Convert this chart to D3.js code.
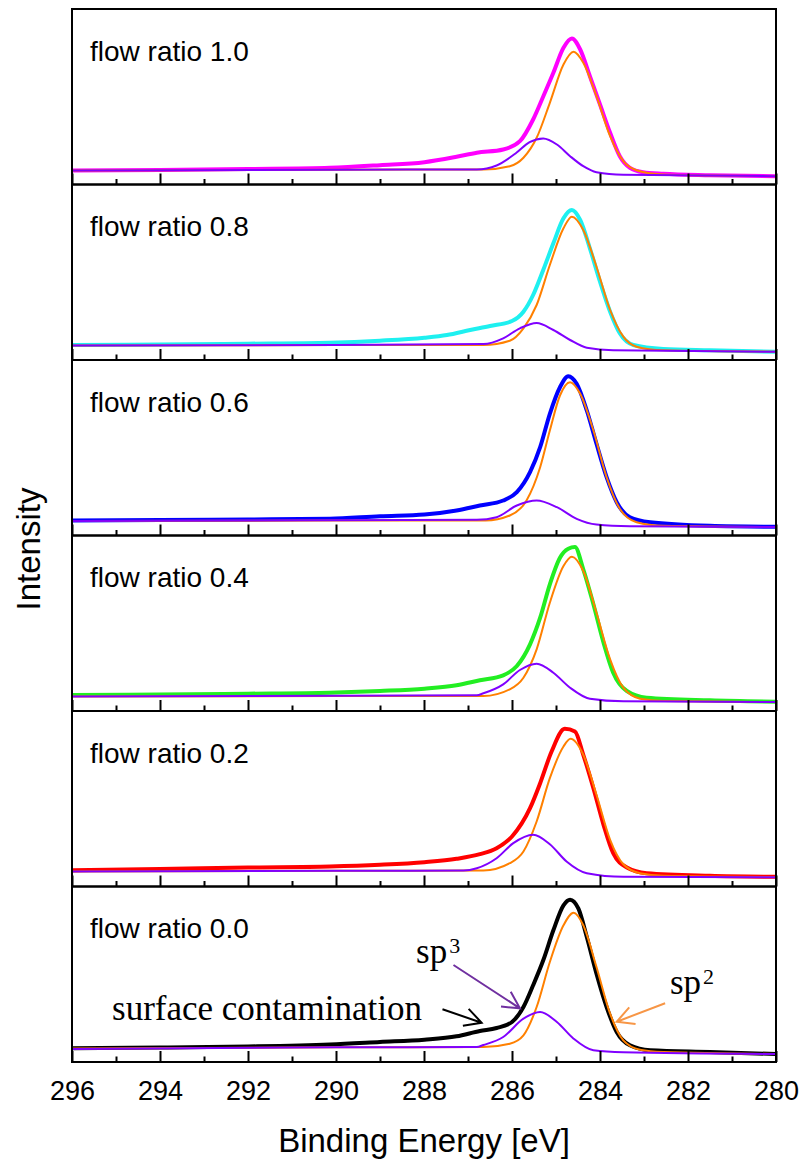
<!DOCTYPE html>
<html>
<head>
<meta charset="utf-8">
<script src="https://cdn.jsdelivr.net/npm/d3@7"></script>
<style>
  html, body { margin: 0; padding: 0; background: #fff; }
  svg { display: block; }
</style>
</head>
<body>
<div id="chart"></div>
<script>
// ---------------- data ----------------
const majorTicks = [296, 294, 292, 290, 288, 286, 284, 282, 280];
const minorTicks = [295, 293, 291, 289, 287, 285, 283, 281];
const panelLabels = ["flow ratio 1.0", "flow ratio 0.8", "flow ratio 0.6", "flow ratio 0.4", "flow ratio 0.2", "flow ratio 0.0"];
const envColors = ["#ff00ff", "#1ef0f0", "#0000ff", "#22ee22", "#ff0000", "#000000"];
const sp2Color = "#ff8000";
const sp3Color = "#8000ff";

// [binding energy (eV), intensity (a.u.)]
const env10 = [[296,14],[294,14.5],[292,15.5],[290.14,16.7],[289.0,19.3],[287.99,22.3],[287.26,27.7],[286.8,31.7],[286.2,35],[285.82,43.3],[285.52,65],[285.29,88],[285.06,111.7],[284.83,136.7],[284.64,146],[284.45,135],[284.23,108.3],[284.0,80],[283.77,51.7],[283.55,28.3],[283.32,16.7],[283.02,12.3],[282.56,10.7],[281.5,9.3],[280,8.3]];
const sp2_10 = [[296,14],[290,14.8],[286.65,15],[286.05,18.3],[285.74,26.7],[285.44,46.7],[285.14,81.7],[284.83,120],[284.6,132.7],[284.38,121.7],[284.08,88.3],[283.77,48.3],[283.47,23.3],[283.17,14.3],[282.56,10],[281,8.8],[280,8.3]];
const sp3_10 = [[296,14],[290,14.8],[286.8,15],[286.35,19],[285.9,31.7],[285.6,42.3],[285.29,46],[284.98,40],[284.68,28.3],[284.38,18.3],[284.08,12.3],[283.47,9.7],[280,8.3]];

const env08 = [[296,15],[294,15.5],[292,16.3],[290.14,17.3],[289.0,19.3],[287.99,22.3],[287.48,25],[286.95,30],[286.5,34],[286.0,39],[285.74,48.3],[285.52,65],[285.29,90],[285.06,116.7],[284.83,141.7],[284.64,150],[284.45,140],[284.23,111.7],[284.0,78.3],[283.77,48.3],[283.55,26.7],[283.24,15],[282.56,11],[281.5,9.7],[280,8.3]];
const sp2_08 = [[296,14.5],[290,15],[286.65,15],[286.05,19.3],[285.74,31.7],[285.44,55],[285.14,95],[284.83,131.7],[284.64,143.3],[284.38,130],[284.08,93.3],[283.77,50],[283.47,23.3],[283.17,13.3],[282.56,9.7],[280,8.3]];
const sp3_08 = [[296,14.5],[290,15],[286.65,16],[286.2,21.7],[285.82,31.7],[285.44,37],[285.06,30],[284.68,20],[284.3,12.3],[283.7,9.7],[280,8.3]];

const env06 = [[296,15],[294,15.5],[292,16],[290.14,16.7],[289.0,19.3],[287.99,21],[287.26,25],[286.73,30],[286.2,35],[285.89,43.3],[285.59,63.3],[285.36,88.3],[285.14,121.7],[284.91,148.3],[284.72,159.3],[284.53,151.7],[284.3,125],[284.08,91.7],[283.85,58.3],[283.62,33.3],[283.32,18.3],[282.86,13.3],[281.5,9.7],[280,8.7]];
const sp2_06 = [[296,14.5],[290,15],[286.6,15],[286.05,20],[285.67,35],[285.36,68.3],[285.14,105],[284.91,140],[284.68,153.3],[284.45,141.7],[284.15,105],[283.85,58.3],[283.55,26.7],[283.17,13.3],[282.56,9.7],[280,8.5]];
const sp3_06 = [[296,14.5],[290,15.3],[286.8,15.7],[286.35,18.3],[285.89,30],[285.44,35],[284.98,28.3],[284.53,16.7],[284.08,11],[283.32,9.3],[280,8.5]];

const env04 = [[296,16],[294,16.5],[292,17.3],[290.14,18.3],[289.0,20],[287.99,22.3],[287.26,25.7],[286.73,30.7],[286.2,35.7],[285.89,45],[285.59,66.7],[285.36,93.3],[285.14,126.7],[284.91,153.3],[284.72,162.3],[284.57,164],[284.38,141.7],[284.15,106.7],[283.92,68.3],[283.7,38.3],[283.39,20],[282.94,13.3],[281.5,10.7],[280,9.3]];
const sp2_04 = [[296,14.5],[290,15],[286.65,15],[286.05,21.7],[285.74,33.3],[285.44,61.7],[285.14,108.3],[284.83,145],[284.64,154.3],[284.38,140],[284.08,98.3],[283.77,51.7],[283.47,23.3],[283.09,12.3],[282.56,10],[280,9]];
const sp3_04 = [[296,14.5],[290,15.3],[286.8,15.7],[286.65,17.7],[286.2,26.7],[285.82,41],[285.44,47.3],[285.06,38.3],[284.68,23.3],[284.23,12.3],[283.47,9.7],[280,9]];

const env02 = [[296,16.3],[294,17.5],[292,19],[290.14,20],[289.0,21.7],[287.99,24.3],[287.26,27.7],[286.73,32.3],[286.35,38.3],[286.0,50],[285.59,78.3],[285.36,103.3],[285.1,135],[284.8,157.7],[284.57,155],[284.38,131.7],[284.15,98.3],[283.92,61.7],[283.7,33.3],[283.39,19],[282.94,13.3],[281.5,10.7],[280,9.7]];
const sp2_02 = [[296,15],[290,15.7],[286.65,16],[286.05,23.3],[285.74,35],[285.44,65],[285.14,108.3],[284.83,140],[284.67,147.7],[284.38,131.7],[284.08,91.7],[283.77,46.7],[283.47,22.3],[283.09,13.3],[282.56,10.7],[280,9.5]];
const sp3_02 = [[296,15],[290,15.7],[287.1,16],[286.8,18.3],[286.35,28.3],[285.97,43.3],[285.52,51.7],[285.14,42.3],[284.76,25],[284.3,13.3],[283.47,9.7],[280,9.3]];

const env00 = [[296,13.7],[294,14.5],[292,15.5],[290.14,17.5],[289.0,20],[287.99,22.3],[287.26,25.7],[286.73,31],[286.35,34],[286.0,40],[285.74,55],[285.52,76.7],[285.29,101.7],[285.06,131.7],[284.83,156.7],[284.68,162.3],[284.49,153.3],[284.3,125],[284.08,88.3],[283.85,55],[283.62,30],[283.32,16.7],[282.86,11.7],[281.5,10],[280,8]];
const sp2_00 = [[296,13.5],[290,14.7],[286.65,15],[286.05,18.3],[285.74,26.7],[285.44,55],[285.14,100],[284.83,136.7],[284.6,149.3],[284.38,136.7],[284.08,95],[283.77,48.3],[283.47,21.7],[283.09,12.3],[282.56,10],[280,8]];
const sp3_00 = [[296,13],[290,14.7],[286.8,15],[286.65,17],[286.2,25],[285.74,43.3],[285.36,50],[284.98,40],[284.6,23.3],[284.15,11.7],[283.47,9.7],[280,8]];

const envSeries = [env10, env08, env06, env04, env02, env00];
const sp2Series = [sp2_10, sp2_08, sp2_06, sp2_04, sp2_02, sp2_00];
const sp3Series = [sp3_10, sp3_08, sp3_06, sp3_04, sp3_02, sp3_00];

// annotations in the bottom panel (energy, intensity)
const noteTexts = ["surface contamination", "sp", "sp"];
const noteSups = ["", "3", "2"];
const notePos = [[295.09, 42], [288.18, 99], [282.41, 68]];
const arrowFrom = [[287.58, 52.7], [287.33, 97], [282.52, 58.7]];
const arrowTo = [[286.69, 39.3], [285.82, 53.7], [283.62, 40.3]];
const arrowColors = ["#000000", "#7030a0", "#f79646"];

// ---------------- layout ----------------
const W = 801, H = 1160;
const mLeft = 72, mRight = 776, mTop = 9, mBottom = 1062;
const nP = 6;
const pH = (mBottom - mTop) / nP;
const yMax = 175.5;

const svg = d3.select("#chart").append("svg").attr("width", W).attr("height", H);
svg.append("rect").attr("width", W).attr("height", H).attr("fill", "#fff");

const x = d3.scaleLinear().domain([296, 280]).range([mLeft, mRight]);

const makeLine = (y) => d3.line().x(d => x(d[0])).y(d => y(d[1])).curve(d3.curveMonotoneX);

const defs = svg.append("defs");

for (let i = 0; i < nP; i++) {
  const pt = mTop + i * pH, pb = pt + pH;
  const y = d3.scaleLinear().domain([0, yMax]).range([pb, pt]);
  const g = svg.append("g");

  defs.append("clipPath").attr("id", "clip" + i)
    .append("rect").attr("x", mLeft).attr("y", pt).attr("width", mRight - mLeft).attr("height", pH);

  const cg = g.append("g").attr("clip-path", `url(#clip${i})`);
  cg.append("path").datum(envSeries[i]).attr("d", makeLine(y))
    .attr("fill", "none").attr("stroke", envColors[i]).attr("stroke-width", 4)
    .attr("stroke-linejoin", "round").attr("stroke-linecap", "round");
  cg.append("path").datum(sp2Series[i]).attr("d", makeLine(y))
    .attr("fill", "none").attr("stroke", sp2Color).attr("stroke-width", 2);
  cg.append("path").datum(sp3Series[i]).attr("d", makeLine(y))
    .attr("fill", "none").attr("stroke", sp3Color).attr("stroke-width", 2);

  // ticks (inward, at the bottom of each panel)
  const axMaj = g.append("g").attr("transform", `translate(0,${pb})`)
    .call(d3.axisBottom(x).tickValues(majorTicks).tickSize(-11).tickFormat(""));
  const axMin = g.append("g").attr("transform", `translate(0,${pb})`)
    .call(d3.axisBottom(x).tickValues(minorTicks).tickSize(-5.5).tickFormat(""));
  [axMaj, axMin].forEach(a => {
    a.select(".domain").remove();
    a.selectAll(".tick line").attr("stroke", "#000").attr("stroke-width", 2);
  });

  // frame
  g.append("rect").attr("x", mLeft).attr("y", pt).attr("width", mRight - mLeft).attr("height", pH)
    .attr("fill", "none").attr("stroke", "#000").attr("stroke-width", 2);

  // panel label
  g.append("text").attr("x", x(295.59)).attr("y", pt + 51.5)
    .attr("font-family", "'Liberation Sans', Arial, sans-serif").attr("font-size", 28)
    .attr("fill", "#000").text(panelLabels[i]);

  if (i === nP - 1) {
    // bottom tick labels
    const axL = g.append("g").attr("transform", `translate(0,${pb})`)
      .call(d3.axisBottom(x).tickValues(majorTicks).tickSize(0).tickFormat(d3.format("d")));
    axL.select(".domain").remove();
    axL.selectAll(".tick text").attr("y", 38).attr("dy", null)
      .attr("font-family", "'Liberation Sans', Arial, sans-serif").attr("font-size", 27).attr("fill", "#000");

    // annotations
    const ag = g.append("g");
    noteTexts.forEach((t, k) => {
      const tx = ag.append("text").attr("x", x(notePos[k][0])).attr("y", y(notePos[k][1]))
        .attr("font-family", "'Liberation Serif', 'Times New Roman', serif").attr("font-size", 35)
        .attr("fill", "#000");
      tx.append("tspan").text(t);
      if (noteSups[k]) tx.append("tspan").attr("dy", -10).attr("dx", 2).attr("font-size", 22).text(noteSups[k]);
    });
    arrowFrom.forEach((f, k) => {
      const x0 = x(f[0]), y0 = y(f[1]), x1 = x(arrowTo[k][0]), y1 = y(arrowTo[k][1]);
      const ang = Math.atan2(y0 - y1, x0 - x1);
      const L = 19, a = 28 * Math.PI / 180;
      const h1 = [x1 + L * Math.cos(ang + a), y1 + L * Math.sin(ang + a)];
      const h2 = [x1 + L * Math.cos(ang - a), y1 + L * Math.sin(ang - a)];
      ag.append("path")
        .attr("d", `M${x0},${y0}L${x1},${y1}M${h1[0]},${h1[1]}L${x1},${y1}L${h2[0]},${h2[1]}`)
        .attr("fill", "none").attr("stroke", arrowColors[k]).attr("stroke-width", 2)
        .attr("stroke-linejoin", "miter");
    });
  }
}

// axis titles
svg.append("text").attr("x", (mLeft + mRight) / 2).attr("y", 1152).attr("text-anchor", "middle")
  .attr("font-family", "'Liberation Sans', Arial, sans-serif").attr("font-size", 33).attr("fill", "#000")
  .text("Binding Energy [eV]");
svg.append("text").attr("transform", `translate(40,549) rotate(-90)`).attr("text-anchor", "middle")
  .attr("font-family", "'Liberation Sans', Arial, sans-serif").attr("font-size", 33).attr("fill", "#000")
  .text("Intensity");
</script>
</body>
</html>
